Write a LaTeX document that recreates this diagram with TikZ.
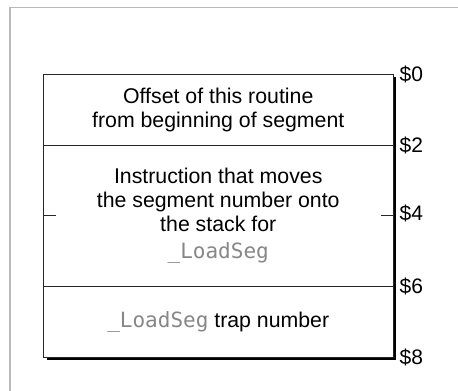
\documentclass[tikz,border=0pt]{standalone}
\usepackage{fontspec}
\setmainfont{Liberation Sans}
\newfontfamily\codefont{DejaVu Sans Mono}
\usetikzlibrary{positioning}
\definecolor{framecolor}{RGB}{185,185,185}
\definecolor{codecolor}{RGB}{135,135,135}
\newcommand{\trapname}{{\codefont\fontsize{21}{24}\selectfont\color{codecolor}\_LoadSeg}}

\begin{document}
\begin{tikzpicture}[x=1pt,y=-1pt,
    field/.style={draw=black!85, line width=0.9pt, fill=white, minimum width=349.5pt,
      inner sep=0pt, outer sep=0pt, align=center, font=\fontsize{21.3}{24}\selectfont},
    offset/.style={anchor=west, inner sep=0pt, font=\fontsize{21}{24}\selectfont}]
    \useasboundingbox (0,0) rectangle (458,391);
    % page frame
    \draw[framecolor, line width=1.5pt] (10,391) -- (10,7.3) -- (458,7.3);
    % shadow under the record
    \coordinate (boxnw) at (43.5,74);
    \coordinate (boxse) at (393,357);
    \fill[black] ([shift={(3.2,3.2)}]boxnw) rectangle ([shift={(3.2,3.2)}]boxse);
    % the three fields
    \node[field, minimum height=71pt, anchor=north west] (offsetfield) at (boxnw)
      {Offset of this routine\\from beginning of segment};
    \node[field, minimum height=141pt, below=0pt of offsetfield] (movefield)
      {Instruction that moves\\the segment number onto\\the stack for\\[3pt]\trapname};
    \node[field, minimum height=71pt, below=0pt of movefield] (trapfield)
      {\raisebox{4pt}{\trapname{} trap number}};
    % word ticks at $4
    \coordinate (tickl) at ([xshift=12pt]movefield.west);
    \coordinate (tickr) at ([xshift=-12pt]movefield.east);
    \draw[black!85, line width=0.9pt] (movefield.west) -- (tickl);
    \draw[black!85, line width=0.9pt] (tickr) -- (movefield.east);
    % byte offsets
    \foreach \v/\y in {0/74, 2/145, 4/213.3, 6/286, 8/357}{
      \node[offset] (off\v) at (399.5,\y) {\$\v};
    }
  \end{tikzpicture}
\end{document}
